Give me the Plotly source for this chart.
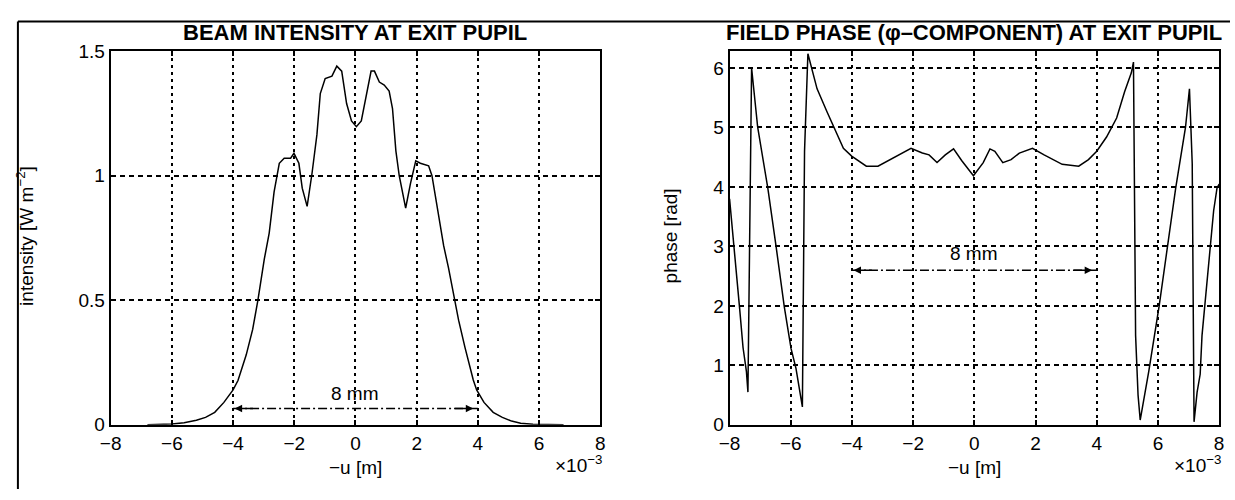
import plotly.graph_objects as go

W, H = 1235, 500

# ---------------- data ----------------
# transverse coordinate -u, in units of 1e-3 m (axis shows "x10^-3")
x_int = [-6.8, -6.4, -6.0, -5.6, -5.2, -4.9, -4.6, -4.3, -4.0, -3.84, -3.57, -3.36, -3.19,
         -2.98, -2.82, -2.66, -2.49, -2.33, -2.12, -2.01, -1.85, -1.74, -1.58, -1.42, -1.26,
         -1.15, -0.99, -0.77, -0.61, -0.45, -0.29, -0.13, 0.03, 0.19, 0.35, 0.51, 0.62, 0.78,
         0.94, 1.10, 1.21, 1.32, 1.43, 1.64, 1.80, 1.97, 2.12, 2.39, 2.50, 2.66, 2.88, 3.04,
         3.20, 3.37, 3.58, 3.85, 3.96, 4.2, 4.5, 4.8, 5.1, 5.4, 5.8, 6.2, 6.8]
intensity = [0.0, 0.001, 0.003, 0.008, 0.018, 0.03, 0.05, 0.09, 0.14, 0.178, 0.281, 0.383, 0.5,
             0.665, 0.77, 0.935, 1.05, 1.07, 1.07, 1.09, 1.05, 0.95, 0.877, 1.01, 1.165,
             1.33, 1.39, 1.40, 1.44, 1.42, 1.29, 1.22, 1.197, 1.22, 1.32, 1.42, 1.42, 1.376,
             1.364, 1.34, 1.27, 1.10, 1.0, 0.87, 0.97, 1.06, 1.05, 1.04, 1.0, 0.88, 0.72, 0.63,
             0.52, 0.42, 0.31, 0.18, 0.14, 0.09, 0.05, 0.03, 0.015, 0.006, 0.002, 0.001, 0.0]

x_ph = [-8.0, -7.83, -7.67, -7.56, -7.45, -7.40, -7.28, -7.08, -6.75, -6.48, -6.21, -5.99,
        -5.83, -5.62, -5.55, -5.44, -5.14, -4.82, -4.55, -4.28, -4.01, -3.53, -3.15, -2.66,
        -2.07, -1.70, -1.48, -1.22, -0.95, -0.68, -0.41, -0.03, 0.29, 0.51, 0.67, 0.93, 1.20,
        1.47, 1.90, 2.28, 2.87, 3.41, 3.73, 4.00, 4.32, 4.65, 4.91, 5.13, 5.20, 5.27, 5.35,
        5.42, 5.70, 6.04, 6.30, 6.58, 6.90, 7.03, 7.12, 7.18, 7.28, 7.38, 7.44, 7.60, 7.71,
        7.82, 7.93, 8.0]
phase = [3.8, 2.9, 1.95, 1.3, 0.9, 0.55, 6.0, 5.0, 3.98, 3.0, 1.98, 1.28,
         0.95, 0.3, 4.6, 6.24, 5.65, 5.27, 4.95, 4.65, 4.52, 4.35, 4.35, 4.49,
         4.65, 4.57, 4.54, 4.41, 4.54, 4.64, 4.44, 4.19, 4.41, 4.64, 4.6, 4.41, 4.46,
         4.57, 4.65, 4.54, 4.38, 4.35, 4.46, 4.6, 4.84, 5.16, 5.6, 5.92, 6.1, 1.5, 0.5,
         0.08, 0.9, 2.0, 2.95, 3.98, 5.0, 5.65, 4.4, 0.05, 0.55, 0.85, 1.5, 2.4, 3.0,
         3.6, 3.98, 4.05]

x_ticks = [-8, -6, -4, -2, 0, 2, 4, 6, 8]
x_ticktext = ["\u22128", "\u22126", "\u22124", "\u22122", "0", "2", "4", "6", "8"]
int_ticks = [0, 0.5, 1, 1.5]
int_ticktext = ["0", "0.5", "1", "1.5"]
ph_ticks = [0, 1, 2, 3, 4, 5, 6]
ph_ticktext = ["0", "1", "2", "3", "4", "5", "6"]

span_lo, span_hi = -4, 4          # "8 mm" marker
span_y_int, span_y_ph = 0.065, 2.6

# ---------------- layout geometry (pixels) ----------------
L1, R1 = 101, 597
L2, R2 = 728, 1224
TOP, BOT = 43, 433
FONT = "Liberation Sans, Arial, Helvetica, sans-serif"

def px(x):
    return x / W

def py(y):
    return 1 - y / H

fig = go.Figure()
fig.add_trace(go.Scatter(x=x_int, y=intensity, mode="lines", xaxis="x", yaxis="y",
                         line=dict(color="black", width=1.5), showlegend=False))
fig.add_trace(go.Scatter(x=x_ph, y=phase, mode="lines", xaxis="x2", yaxis="y2",
                         line=dict(color="black", width=1.5), showlegend=False))

common = dict(showline=True, linecolor="black", linewidth=2, mirror="ticks",
              ticks="inside", ticklen=5, tickwidth=1.5, tickcolor="black",
              zeroline=False, showgrid=True, gridcolor="black", gridwidth=1.5,
              tickfont=dict(family=FONT, size=19, color="black"), fixedrange=True)

fig.update_layout(
    width=W, height=H, autosize=False,
    margin=dict(l=0, r=0, t=0, b=0),
    paper_bgcolor="white", plot_bgcolor="white",
    xaxis=dict(domain=[px(L1), px(R1)], range=[-8, 8], anchor="y",
               tickvals=x_ticks, ticktext=x_ticktext, griddash="3px,4px", **common),
    yaxis=dict(domain=[py(BOT), py(TOP)], range=[0, 1.5], anchor="x",
               tickvals=int_ticks, ticktext=int_ticktext, griddash="5px,4px", **common),
    xaxis2=dict(domain=[px(L2), px(R2)], range=[-8, 8], anchor="y2",
                tickvals=x_ticks, ticktext=x_ticktext, griddash="3px,4px", **common),
    yaxis2=dict(domain=[py(BOT), py(TOP)], range=[0, 6.2832], anchor="x2",
                tickvals=ph_ticks, ticktext=ph_ticktext, griddash="5px,4px", **common),
)

def text(x, y, s, size=19, angle=0):
    fig.add_annotation(x=px(x), y=py(y), xref="paper", yref="paper", text=s,
                       showarrow=False, textangle=angle, xanchor="center", yanchor="middle",
                       font=dict(family=FONT, size=size, color="black"))

# titles
text((L1 + R1) / 2, 23, "<b>BEAM INTENSITY AT EXIT PUPIL</b>", size=22)
text((L2 + R2) / 2, 23, "<b>FIELD PHASE (\u03c6\u2013COMPONENT) AT EXIT PUPIL</b>", size=22)
# axis labels
text((L1 + R1) / 2, 478, "\u2212u [m]")
text((L2 + R2) / 2, 478, "\u2212u [m]")
text(R1 - 22, 474, "\u00d710<sup>\u22123</sup>")
text(R2 - 22, 474, "\u00d710<sup>\u22123</sup>")
text(14, 236, "intensity [W m<sup>\u22122</sup>]", angle=-90)
text(668, 236, "phase [rad]", angle=-90)

# "8 mm" markers
for xr, yr, yv, ty in (("x", "y", span_y_int, 0.125), ("x2", "y2", span_y_ph, 2.88)):
    fig.add_shape(type="line", xref=xr, yref=yr, x0=span_lo, x1=span_hi, y0=yv, y1=yv,
                  line=dict(color="black", width=1.5, dash="9px,3px,2px,3px"))
    fig.add_annotation(xref=xr, yref=yr, x=span_lo + 0.05, y=yv, ax=span_lo + 0.7, ay=yv,
                       axref=xr, ayref=yr, text="", showarrow=True, arrowhead=2,
                       arrowsize=1, arrowwidth=1.5, arrowcolor="black")
    fig.add_annotation(xref=xr, yref=yr, x=span_hi - 0.15, y=yv, ax=span_hi - 0.8, ay=yv,
                       axref=xr, ayref=yr, text="", showarrow=True, arrowhead=2,
                       arrowsize=1, arrowwidth=1.5, arrowcolor="black")
    fig.add_annotation(xref=xr, yref=yr, x=0, y=ty, text="8 mm", showarrow=False,
                       font=dict(family=FONT, size=19, color="black"))

# window frame lines
fig.add_shape(type="line", xref="paper", yref="paper", x0=px(7), x1=px(7), y0=py(12), y1=0,
              line=dict(color="black", width=2))
fig.add_shape(type="line", xref="paper", yref="paper", x0=px(7), x1=1, y0=py(12), y1=py(12),
              line=dict(color="black", width=2))

fig.write_html(
    "out.html",
    config={"displayModeBar": False},
    post_script="document.body.style.margin='0';document.body.style.overflow='hidden';",
)
